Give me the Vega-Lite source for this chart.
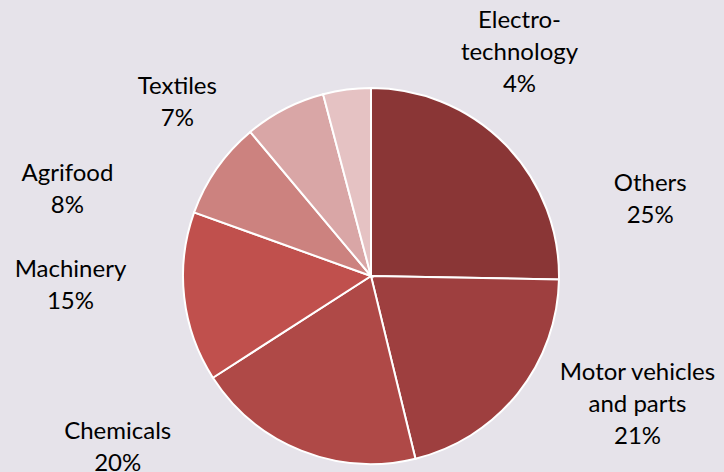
{
  "$schema": "https://vega.github.io/schema/vega-lite/v6.json",
  "width": 742,
  "height": 552,
  "padding": 0,
  "autosize": {"type": "none"},
  "background": "#E6E3EA",
  "config": {"view": {"stroke": null}},
  "data": {
    "values": [
      {"category": "Others", "value": 25.3, "label": "Others\n25%", "order": 1},
      {"category": "Motor vehicles and parts", "value": 20.9, "label": "Motor vehicles\nand parts\n21%", "order": 2},
      {"category": "Chemicals", "value": 19.7, "label": "Chemicals\n20%", "order": 3},
      {"category": "Machinery", "value": 14.6, "label": "Machinery\n15%", "order": 4},
      {"category": "Agrifood", "value": 8.4, "label": "Agrifood\n8%", "order": 5},
      {"category": "Textiles", "value": 7.0, "label": "Textiles\n7%", "order": 6},
      {"category": "Electro-technology", "value": 4.1, "label": "Electro-\ntechnology\n4%", "order": 7}
    ]
  },
  "encoding": {
    "theta": {"field": "value", "type": "quantitative", "stack": true},
    "order": {"field": "order", "type": "quantitative"}
  },
  "layer": [
    {
      "mark": {"type": "arc", "outerRadius": 188, "stroke": "white", "strokeWidth": 2},
      "encoding": {
        "color": {
          "field": "category",
          "type": "nominal",
          "scale": {
            "domain": ["Others", "Motor vehicles and parts", "Chemicals", "Machinery", "Agrifood", "Textiles", "Electro-technology"],
            "range": ["#8A3636", "#9E3F3F", "#AF4947", "#C0504D", "#CC827F", "#D9A6A6", "#E5C2C3"]
          },
          "legend": null
        }
      }
    },
    {
      "mark": {
        "type": "text",
        "radius": 230,
        "font": "Lato",
        "fontSize": 24,
        "lineBreak": "\n",
        "lineHeight": 32,
        "color": "#000000",
        "dx": {"expr": "datum.category === 'Others' ? 115 : datum.category === 'Motor vehicles and parts' ? 87 : datum.category === 'Chemicals' ? -168 : datum.category === 'Machinery' ? -72 : datum.category === 'Agrifood' ? -115 : datum.category === 'Textiles' ? -88 : 178"},
        "dy": {"expr": "datum.category === 'Others' ? 69 : datum.category === 'Motor vehicles and parts' ? -47 : datum.category === 'Chemicals' ? -58 : datum.category === 'Machinery' ? -32 : datum.category === 'Agrifood' ? 30 : datum.category === 'Textiles' ? 15 : -27"}
      },
      "encoding": {
        "text": {"field": "label", "type": "nominal"}
      }
    }
  ]
}
